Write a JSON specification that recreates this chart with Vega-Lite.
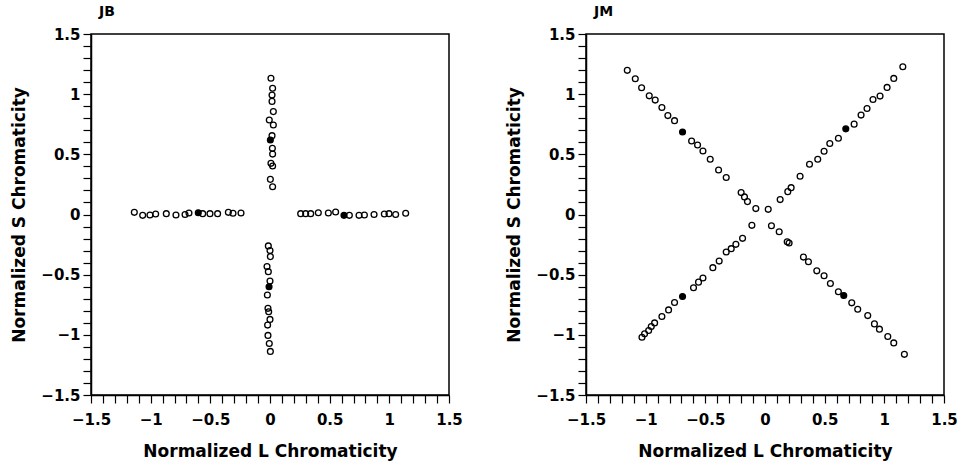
{
  "$schema": "https://vega.github.io/schema/vega-lite/v6.json",
  "background": "white",
  "padding": {"left": 10, "top": 4, "right": 5, "bottom": 2},
  "spacing": 137,
  "bounds": "flush",
  "datasets": {
    "jb": [
      {"L": -1.137, "S": 0.018, "f": 0}, {"L": -1.067, "S": -0.007, "f": 0}, {"L": -1.006, "S": -0.004, "f": 0},
      {"L": -0.958, "S": 0.004, "f": 0}, {"L": -0.869, "S": 0.007, "f": 0}, {"L": -0.788, "S": -0.004, "f": 0},
      {"L": -0.712, "S": 0.0, "f": 0}, {"L": -0.679, "S": 0.012, "f": 0}, {"L": -0.601, "S": 0.015, "f": 1},
      {"L": -0.564, "S": 0.007, "f": 0}, {"L": -0.503, "S": 0.007, "f": 0}, {"L": -0.439, "S": 0.007, "f": 0},
      {"L": -0.349, "S": 0.018, "f": 0}, {"L": -0.31, "S": 0.01, "f": 0}, {"L": -0.243, "S": 0.012, "f": 0},
      {"L": 0.257, "S": 0.007, "f": 0}, {"L": 0.299, "S": 0.007, "f": 0}, {"L": 0.341, "S": 0.007, "f": 0},
      {"L": 0.405, "S": 0.015, "f": 0}, {"L": 0.489, "S": 0.012, "f": 0}, {"L": 0.55, "S": 0.021, "f": 0},
      {"L": 0.62, "S": -0.007, "f": 1}, {"L": 0.665, "S": -0.007, "f": 0}, {"L": 0.746, "S": -0.007, "f": 0},
      {"L": 0.791, "S": -0.004, "f": 0}, {"L": 0.872, "S": 0.0, "f": 0}, {"L": 0.958, "S": 0.004, "f": 0},
      {"L": 0.997, "S": 0.007, "f": 0}, {"L": 1.053, "S": 0.0, "f": 0}, {"L": 1.137, "S": 0.01, "f": 0},
      {"L": 0.008, "S": 1.132, "f": 0}, {"L": 0.022, "S": 1.049, "f": 0}, {"L": 0.017, "S": 0.993, "f": 0},
      {"L": 0.017, "S": 0.94, "f": 0}, {"L": 0.028, "S": 0.855, "f": 0}, {"L": -0.006, "S": 0.785, "f": 0},
      {"L": 0.028, "S": 0.744, "f": 0}, {"L": 0.017, "S": 0.655, "f": 0}, {"L": 0.003, "S": 0.619, "f": 1},
      {"L": 0.02, "S": 0.55, "f": 0}, {"L": 0.022, "S": 0.502, "f": 0}, {"L": 0.008, "S": 0.425, "f": 0},
      {"L": 0.022, "S": 0.403, "f": 0}, {"L": 0.003, "S": 0.292, "f": 0}, {"L": 0.022, "S": 0.231, "f": 0},
      {"L": -0.014, "S": -0.261, "f": 0}, {"L": 0.0, "S": -0.3, "f": 0}, {"L": 0.003, "S": -0.35, "f": 0},
      {"L": -0.025, "S": -0.433, "f": 0}, {"L": -0.014, "S": -0.475, "f": 0}, {"L": 0.0, "S": -0.553, "f": 0},
      {"L": -0.008, "S": -0.6, "f": 1}, {"L": -0.022, "S": -0.669, "f": 0}, {"L": -0.017, "S": -0.78, "f": 0},
      {"L": -0.011, "S": -0.808, "f": 0}, {"L": 0.0, "S": -0.872, "f": 0}, {"L": -0.02, "S": -0.919, "f": 0},
      {"L": -0.017, "S": -1.005, "f": 0}, {"L": -0.006, "S": -1.072, "f": 0}, {"L": 0.003, "S": -1.138, "f": 0}
    ],
    "jm": [
      {"L": -1.154, "S": 1.198, "f": 0}, {"L": -1.087, "S": 1.128, "f": 0}, {"L": -1.034, "S": 1.053, "f": 0},
      {"L": -0.97, "S": 0.986, "f": 0}, {"L": -0.92, "S": 0.951, "f": 0}, {"L": -0.864, "S": 0.889, "f": 0},
      {"L": -0.814, "S": 0.822, "f": 0}, {"L": -0.758, "S": 0.78, "f": 0}, {"L": -0.691, "S": 0.686, "f": 1},
      {"L": -0.615, "S": 0.611, "f": 0}, {"L": -0.565, "S": 0.578, "f": 0}, {"L": -0.52, "S": 0.528, "f": 0},
      {"L": -0.459, "S": 0.459, "f": 0}, {"L": -0.389, "S": 0.37, "f": 0}, {"L": -0.325, "S": 0.307, "f": 0},
      {"L": -0.2, "S": 0.182, "f": 0}, {"L": -0.172, "S": 0.146, "f": 0}, {"L": -0.147, "S": 0.107, "f": 0},
      {"L": -0.077, "S": 0.049, "f": 0},
      {"L": 0.054, "S": -0.093, "f": 0}, {"L": 0.119, "S": -0.143, "f": 0}, {"L": 0.186, "S": -0.226, "f": 0},
      {"L": 0.202, "S": -0.237, "f": 0}, {"L": 0.322, "S": -0.354, "f": 0}, {"L": 0.364, "S": -0.393, "f": 0},
      {"L": 0.434, "S": -0.468, "f": 0}, {"L": 0.495, "S": -0.509, "f": 0}, {"L": 0.548, "S": -0.573, "f": 0},
      {"L": 0.615, "S": -0.642, "f": 0}, {"L": 0.66, "S": -0.673, "f": 1}, {"L": 0.727, "S": -0.734, "f": 0},
      {"L": 0.777, "S": -0.787, "f": 0}, {"L": 0.861, "S": -0.84, "f": 0}, {"L": 0.917, "S": -0.909, "f": 0},
      {"L": 0.959, "S": -0.953, "f": 0}, {"L": 1.029, "S": -1.014, "f": 0}, {"L": 1.079, "S": -1.067, "f": 0},
      {"L": 1.168, "S": -1.162, "f": 0},
      {"L": -1.031, "S": -1.02, "f": 0}, {"L": -1.009, "S": -0.992, "f": 0}, {"L": -0.975, "S": -0.964, "f": 0},
      {"L": -0.953, "S": -0.931, "f": 0}, {"L": -0.925, "S": -0.901, "f": 0}, {"L": -0.864, "S": -0.848, "f": 0},
      {"L": -0.808, "S": -0.793, "f": 0}, {"L": -0.758, "S": -0.731, "f": 0}, {"L": -0.691, "S": -0.681, "f": 1},
      {"L": -0.599, "S": -0.609, "f": 0}, {"L": -0.557, "S": -0.562, "f": 0}, {"L": -0.52, "S": -0.528, "f": 0},
      {"L": -0.437, "S": -0.442, "f": 0}, {"L": -0.384, "S": -0.387, "f": 0}, {"L": -0.325, "S": -0.312, "f": 0},
      {"L": -0.283, "S": -0.284, "f": 0}, {"L": -0.244, "S": -0.248, "f": 0}, {"L": -0.188, "S": -0.198, "f": 0},
      {"L": -0.11, "S": -0.09, "f": 0},
      {"L": 0.027, "S": 0.043, "f": 0}, {"L": 0.127, "S": 0.124, "f": 0}, {"L": 0.191, "S": 0.19, "f": 0},
      {"L": 0.219, "S": 0.223, "f": 0}, {"L": 0.294, "S": 0.318, "f": 0}, {"L": 0.373, "S": 0.418, "f": 0},
      {"L": 0.442, "S": 0.459, "f": 0}, {"L": 0.495, "S": 0.526, "f": 0}, {"L": 0.543, "S": 0.59, "f": 0},
      {"L": 0.615, "S": 0.634, "f": 0}, {"L": 0.677, "S": 0.712, "f": 1}, {"L": 0.747, "S": 0.751, "f": 0},
      {"L": 0.805, "S": 0.826, "f": 0}, {"L": 0.855, "S": 0.881, "f": 0}, {"L": 0.905, "S": 0.956, "f": 0},
      {"L": 0.964, "S": 0.984, "f": 0}, {"L": 1.023, "S": 1.056, "f": 0}, {"L": 1.079, "S": 1.131, "f": 0},
      {"L": 1.155, "S": 1.228, "f": 0}
    ]
  },
  "hconcat": [
    {
      "width": 358,
      "height": 361,
      "title": {"text": "JB"},
      "data": {"name": "jb"},
      "mark": {"type": "point", "shape": "circle", "size": 34, "strokeWidth": 1.3, "stroke": "black", "filled": true, "opacity": 1},
      "encoding": {
        "x": {
          "field": "L", "type": "quantitative",
          "scale": {"domain": [-1.5, 1.5], "nice": false, "zero": false},
          "axis": {
            "title": "Normalized L Chromaticity",
            "values": [-1.5,-1.4,-1.3,-1.2,-1.1,-1,-0.9,-0.8,-0.7,-0.6,-0.5,-0.4,-0.3,-0.2,-0.1,0,0.1,0.2,0.3,0.4,0.5,0.6,0.7,0.8,0.9,1,1.1,1.2,1.3,1.4,1.5],
            "format": "~g",
            "labelExpr": "abs(round(datum.value*10))%5==0 ? datum.label : ''",
            "labelPadding": 9,
            "titlePadding": 16,
            "encode": {"ticks": {"update": {"y2": {"condition": {"test": "abs(round(datum.value*10))%5==0", "value": -8}, "value": -4}}}}
          }
        },
        "y": {
          "field": "S", "type": "quantitative",
          "scale": {"domain": [-1.5, 1.5], "nice": false, "zero": false},
          "axis": {
            "title": "Normalized S Chromaticity",
            "values": [-1.5,-1.4,-1.3,-1.2,-1.1,-1,-0.9,-0.8,-0.7,-0.6,-0.5,-0.4,-0.3,-0.2,-0.1,0,0.1,0.2,0.3,0.4,0.5,0.6,0.7,0.8,0.9,1,1.1,1.2,1.3,1.4,1.5],
            "format": "~g",
            "labelExpr": "abs(round(datum.value*10))%5==0 ? datum.label : ''",
            "labelPadding": 3,
            "titlePadding": 12,
            "encode": {"ticks": {"update": {"x2": {"condition": {"test": "abs(round(datum.value*10))%5==0", "value": 8}, "value": 4}}}}
          }
        },
        "fill": {"condition": {"test": "datum.f == 1", "value": "black"}, "value": "transparent"}
      }
    },
    {
      "width": 358,
      "height": 361,
      "title": {"text": "JM"},
      "data": {"name": "jm"},
      "mark": {"type": "point", "shape": "circle", "size": 34, "strokeWidth": 1.3, "stroke": "black", "filled": true, "opacity": 1},
      "encoding": {
        "x": {
          "field": "L", "type": "quantitative",
          "scale": {"domain": [-1.5, 1.5], "nice": false, "zero": false},
          "axis": {
            "title": "Normalized L Chromaticity",
            "values": [-1.5,-1.4,-1.3,-1.2,-1.1,-1,-0.9,-0.8,-0.7,-0.6,-0.5,-0.4,-0.3,-0.2,-0.1,0,0.1,0.2,0.3,0.4,0.5,0.6,0.7,0.8,0.9,1,1.1,1.2,1.3,1.4,1.5],
            "format": "~g",
            "labelExpr": "abs(round(datum.value*10))%5==0 ? datum.label : ''",
            "labelPadding": 9,
            "titlePadding": 16,
            "encode": {"ticks": {"update": {"y2": {"condition": {"test": "abs(round(datum.value*10))%5==0", "value": -8}, "value": -4}}}}
          }
        },
        "y": {
          "field": "S", "type": "quantitative",
          "scale": {"domain": [-1.5, 1.5], "nice": false, "zero": false},
          "axis": {
            "title": "Normalized S Chromaticity",
            "values": [-1.5,-1.4,-1.3,-1.2,-1.1,-1,-0.9,-0.8,-0.7,-0.6,-0.5,-0.4,-0.3,-0.2,-0.1,0,0.1,0.2,0.3,0.4,0.5,0.6,0.7,0.8,0.9,1,1.1,1.2,1.3,1.4,1.5],
            "format": "~g",
            "labelExpr": "abs(round(datum.value*10))%5==0 ? datum.label : ''",
            "labelPadding": 3,
            "titlePadding": 12,
            "encode": {"ticks": {"update": {"x2": {"condition": {"test": "abs(round(datum.value*10))%5==0", "value": 8}, "value": 4}}}}
          }
        },
        "fill": {"condition": {"test": "datum.f == 1", "value": "black"}, "value": "transparent"}
      }
    }
  ],
  "config": {
    "view": {"stroke": "black", "strokeWidth": 1.5},
    "title": {"anchor": "start", "frame": "group", "font": "DejaVu Sans", "fontSize": 14, "fontWeight": "bold", "color": "black", "dx": 8, "offset": 8},
    "axis": {
      "grid": false,
      "domainColor": "black",
      "domainWidth": 1.5,
      "tickColor": "black",
      "tickWidth": 1.2,
      "tickSize": 8,
      "labelFont": "DejaVu Sans",
      "labelFontWeight": "bold",
      "labelFontSize": 15,
      "labelColor": "black",
      "labelOverlap": false,
      "labelFlush": false,
      "titleFont": "DejaVu Sans",
      "titleFontWeight": "bold",
      "titleFontSize": 17,
      "titleColor": "black"
    }
  }
}
